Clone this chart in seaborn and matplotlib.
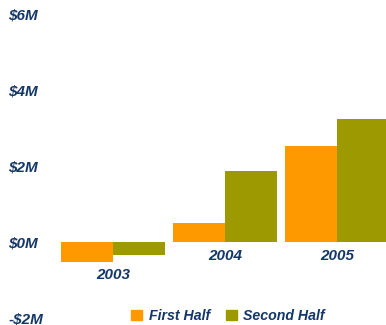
import matplotlib
matplotlib.use("Agg")
import matplotlib.pyplot as plt
import matplotlib.patches as mpatches
import seaborn as sns
import pandas as pd

years = ["2003", "2004", "2005"]
first_half = [-0.52, 0.50, 2.53]
second_half = [-0.34, 1.87, 3.24]
series_names = ["First Half", "Second Half"]
y_ticks = [-2, 0, 2, 4, 6]
y_tick_labels = ["-$2M", "$0M", "$2M", "$4M", "$6M"]

colors = ["#FF9900", "#9C9A00"]
text_color = "#143767"

df = pd.DataFrame({
    "year": years * 2,
    "half": [series_names[0]] * 3 + [series_names[1]] * 3,
    "value": first_half + second_half,
})

sns.set_theme(style="white")
plt.rcParams["font.family"] = ["Liberation Sans", "DejaVu Sans"]

fig = plt.figure(figsize=(3.86, 3.25), dpi=100)
ax = fig.add_axes([57 / 386, 7 / 325, 336 / 386, 304 / 325])

sns.barplot(data=df, x="year", y="value", hue="half", palette=colors,
            width=0.92, gap=0, saturation=1, ax=ax, legend=False,
            linewidth=0, edgecolor="none")

ax.set_xlim(-0.5, 2.5)
ax.set_ylim(-2, 6)
ax.set_yticks(y_ticks)
ax.set_yticklabels(y_tick_labels, fontsize=11, fontweight="bold",
                   fontstyle="italic", color=text_color)
for lbl in ax.get_yticklabels():
    lbl.set_horizontalalignment("left")
ax.tick_params(axis="y", length=0, pad=35)
ax.set_xticks([])
ax.set_xlabel("")
ax.set_ylabel("")
for s in ax.spines.values():
    s.set_visible(False)

# year labels sit just under the lowest bar of each group
for i, yr in enumerate(years):
    low = min(0, first_half[i], second_half[i])
    ax.text(i, low - 0.36, yr, ha="center", va="center", fontsize=11,
            fontweight="bold", fontstyle="italic", color=text_color)

handles = [mpatches.Patch(color=c, label=n) for c, n in zip(colors, series_names)]
leg = fig.legend(handles=handles, loc="center", bbox_to_anchor=(228 / 386, 1 - 316 / 325),
                 ncol=2, frameon=False, handlelength=0.8, handleheight=0.8,
                 handletextpad=0.45, columnspacing=1.1,
                 prop={"size": 10.2, "weight": "bold", "style": "italic"})
for t in leg.get_texts():
    t.set_color(text_color)

fig.savefig("out.png", dpi=100)
